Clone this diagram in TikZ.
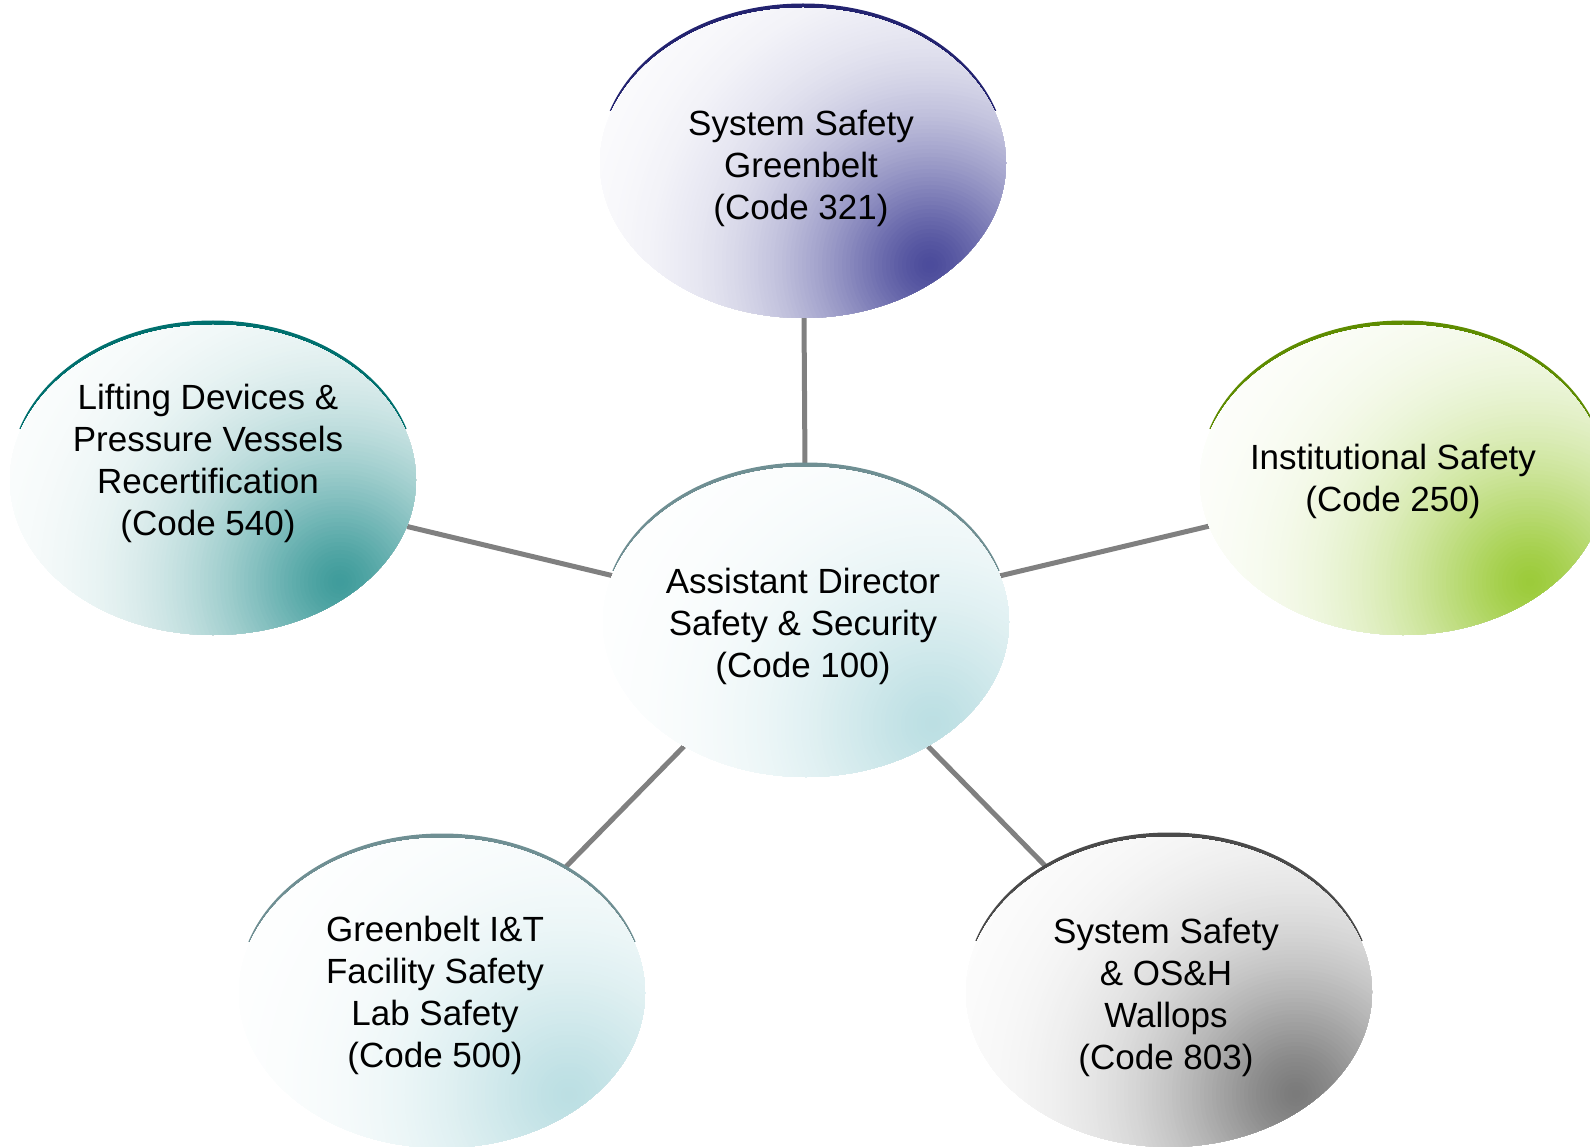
\documentclass[tikz,border=0pt]{standalone}
\usepackage{fontspec}
\setmainfont{Liberation Sans}
\usetikzlibrary{shapes.geometric}

\pgfdeclarelayer{background}
\pgfsetlayers{background,main}

\colorlet{tone}{gray}
\definecolor{linkgray}{HTML}{808080}
\definecolor{navyTone}{HTML}{4B4B9B}
\definecolor{navyRim}{HTML}{232370}
\definecolor{tealTone}{HTML}{3F9C9B}
\definecolor{tealRim}{HTML}{00706E}
\definecolor{greenTone}{HTML}{9CCB3A}
\definecolor{greenRim}{HTML}{5E8C00}
\definecolor{iceTone}{HTML}{BCDFE3}
\definecolor{iceRim}{HTML}{6F8F93}
\definecolor{greyTone}{HTML}{7A7A7A}
\definecolor{greyRim}{HTML}{4A4A4A}

\tikzset{
  % soft glow built from nested discs, darkest near the lower right
  oval/.style={ellipse, minimum width=406pt, minimum height=310pt, inner sep=0pt, fill=white,
    path picture={
      \coordinate (glow) at ([shift={(127,102)}]path picture bounding box.center);
      \foreach \k in {0,...,109} {
        \pgfmathsetmacro\r{440*(1-\k/110)}
        \pgfmathsetmacro\p{100*exp(-((\r/148)^1.5))}
        \fill[tone!\p!white] (glow) circle [radius=\r pt];
      }}},
  txt/.style={align=center, inner sep=0pt, font=\fontsize{35}{42}\selectfont},
  link/.style={draw=linkgray, line width=5pt}
}

% #1 name, #2 centre, #3 fill tone, #4 rim colour, #5 text position, #6 text
\newcommand\ovalnode[6]{%
  \colorlet{tone}{#3}%
  \begin{scope}
    \clip (#2) ++(-260,-200) rectangle ++(520,148);
    \fill[#4] (#2) ++(0,-4.5) ellipse [x radius=203pt, y radius=155pt];
  \end{scope}
  \node[oval] (#1) at (#2) {};
  \node[txt] (#1-text) at (#5) {#6};
}

\begin{document}
\begin{tikzpicture}[x=1pt, y=-1pt]
  \useasboundingbox (0,0) rectangle (1590,1147);

  \ovalnode{hub}{806,622}{iceTone}{iceRim}{803,626}{Assistant Director\\Safety \& Security\\(Code 100)}
  \ovalnode{top}{803,163}{navyTone}{navyRim}{801,168}{System Safety\\Greenbelt\\(Code 321)}
  \ovalnode{lift}{213,480}{tealTone}{tealRim}{208,463}{Lifting Devices \&\\Pressure Vessels\\Recertification\\(Code 540)}
  \ovalnode{inst}{1403,480}{greenTone}{greenRim}{1393,481}{Institutional Safety\\(Code 250)}
  \ovalnode{lab}{442,993}{iceTone}{iceRim}{435,995}{Greenbelt I\&T\\Facility Safety\\Lab Safety\\(Code 500)}
  \ovalnode{wall}{1169,992}{greyTone}{greyRim}{1166,997}{System Safety\\\& OS\&H\\Wallops\\(Code 803)}

  \begin{pgfonlayer}{background}
    \draw[link] (hub) -- (top);
    \draw[link] (hub) -- (lift);
    \draw[link] (hub) -- (inst);
    \draw[link] (hub) -- (lab);
    \draw[link] (hub) -- (wall);
  \end{pgfonlayer}
\end{tikzpicture}
\end{document}
